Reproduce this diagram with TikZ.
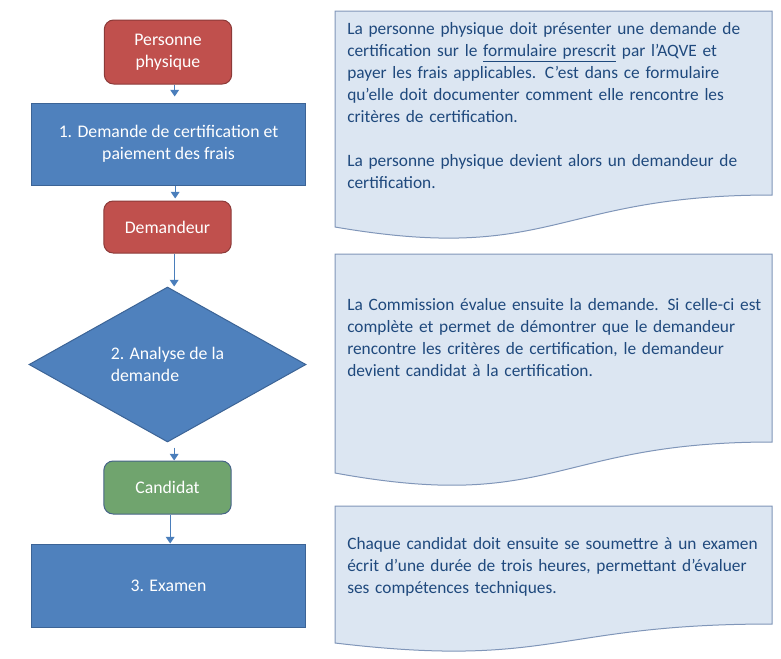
\documentclass[tikz,border=0pt]{standalone}
\usepackage{fontspec}
\setmainfont{Carlito}
\usetikzlibrary{arrows.meta,positioning,shapes.geometric}
\definecolor{FlowRed}{RGB}{192,80,77}
\definecolor{RedLine}{RGB}{140,58,56}
\definecolor{FlowBlue}{RGB}{79,129,189}
\definecolor{BlueLine}{RGB}{60,100,150}
\definecolor{FlowGreen}{RGB}{112,164,110}
\definecolor{GreenLine}{RGB}{70,100,135}
\definecolor{ArrowBlue}{RGB}{74,126,187}
\definecolor{NoteFill}{RGB}{220,230,242}
\definecolor{NoteLine}{RGB}{128,150,185}
\definecolor{NoteText}{RGB}{31,73,125}

\begin{document}
\begin{tikzpicture}[
    x=0.75pt, y=-0.75pt,
    term/.style={draw=RedLine, line width=0.75pt, rounded corners=7pt, fill=FlowRed, text=white,
      align=center, minimum width=95.5pt, font=\fontsize{13.3}{16.5}\selectfont},
    proc/.style={draw=BlueLine, line width=0.75pt, fill=FlowBlue, text=white, align=center,
      minimum width=206pt, font=\fontsize{13.3}{16.5}\selectfont},
    dec/.style={diamond, draw=BlueLine, line width=0.75pt, fill=FlowBlue, text=white, align=left,
      minimum width=207.75pt, minimum height=116.25pt, inner sep=0pt, font=\fontsize{13.3}{16.5}\selectfont},
    note/.style={anchor=base west, inner sep=0pt, text width=330pt, align=left, text=NoteText,
      font=\fontsize{13}{16.5}\selectfont},
    notebg/.style={draw=NoteLine, line width=0.75pt, fill=NoteFill},
    arr/.style={-{Triangle[width=6.5pt,length=5pt]}, line width=0.75pt, draw=ArrowBlue}
  ]
    \useasboundingbox (0,0) rectangle (781,658);
    % flow
    \node[term, minimum height=48pt] (pers) at (168,52) {Personne\\physique};
    \node[proc, minimum height=61.5pt] (dem1) at (168.5,144) {1. Demande de certification et\\paiement des frais};
    \node[term, minimum height=39pt] (dmdr) at (167.5,227) {Demandeur};
    \node[dec] (ana) at (167.5,364.5) {2. Analyse de la\\demande};
    \node[term, fill=FlowGreen, draw=GreenLine, minimum height=39.75pt] (cand) at (167.5,487.5) {Candidat};
    \node[proc, minimum height=62.25pt] (exam) at (168.5,585.5) {3. Examen};
    \draw[arr, shorten >=4.5pt] ([xshift=5pt]pers.south) -- ([xshift=5pt]pers.south |- dem1.north);
    \draw[arr, shorten >=1.5pt] ([xshift=5pt]dem1.south) -- ([xshift=5pt]dem1.south |- dmdr.north);
    \draw[arr] ([xshift=5pt]dmdr.south) -- ([xshift=5pt]dmdr.south |- ana.north);
    \draw[arr, shorten <=3.75pt] ([xshift=5pt]ana.south) -- ([xshift=5pt]ana.south |- cand.north);
    \draw[arr] ([xshift=2pt]cand.south) -- ([xshift=2pt]cand.south |- exam.north);
    % notes
    \draw[notebg] (335,11) -- (772,11) -- (772,195) .. controls (553.5,195) and (553.5,264.5) .. (335,227) -- cycle;
    \draw[notebg] (335,254) -- (772,254) -- (772,442) .. controls (553.5,442) and (553.5,513) .. (335,473) -- cycle;
    \draw[notebg] (335,506) -- (772,506) -- (772,624) .. controls (553.5,624) and (553.5,669) .. (335,643) -- cycle;
    \node[note] (txt1) at (347,34.5) {La personne physique doit présenter une demande de\\
      certification sur le \underline{formulaire prescrit} par l’AQVE et\\
      payer les frais applicables. C’est dans ce formulaire\\
      qu’elle doit documenter comment elle rencontre les\\
      critères de certification.\\[16.5pt]
      La personne physique devient alors un demandeur de\\
      certification.};
    \node[note] (txt2) at (347,310.5) {La Commission évalue ensuite la demande. Si celle-ci est\\
      complète et permet de démontrer que le demandeur\\
      rencontre les critères de certification, le demandeur\\
      devient candidat à la certification.};
    \node[note] (txt3) at (347,549) {Chaque candidat doit ensuite se soumettre à un examen\\
      écrit d’une durée de trois heures, permettant d’évaluer\\
      ses compétences techniques.};
  \end{tikzpicture}
\end{document}
